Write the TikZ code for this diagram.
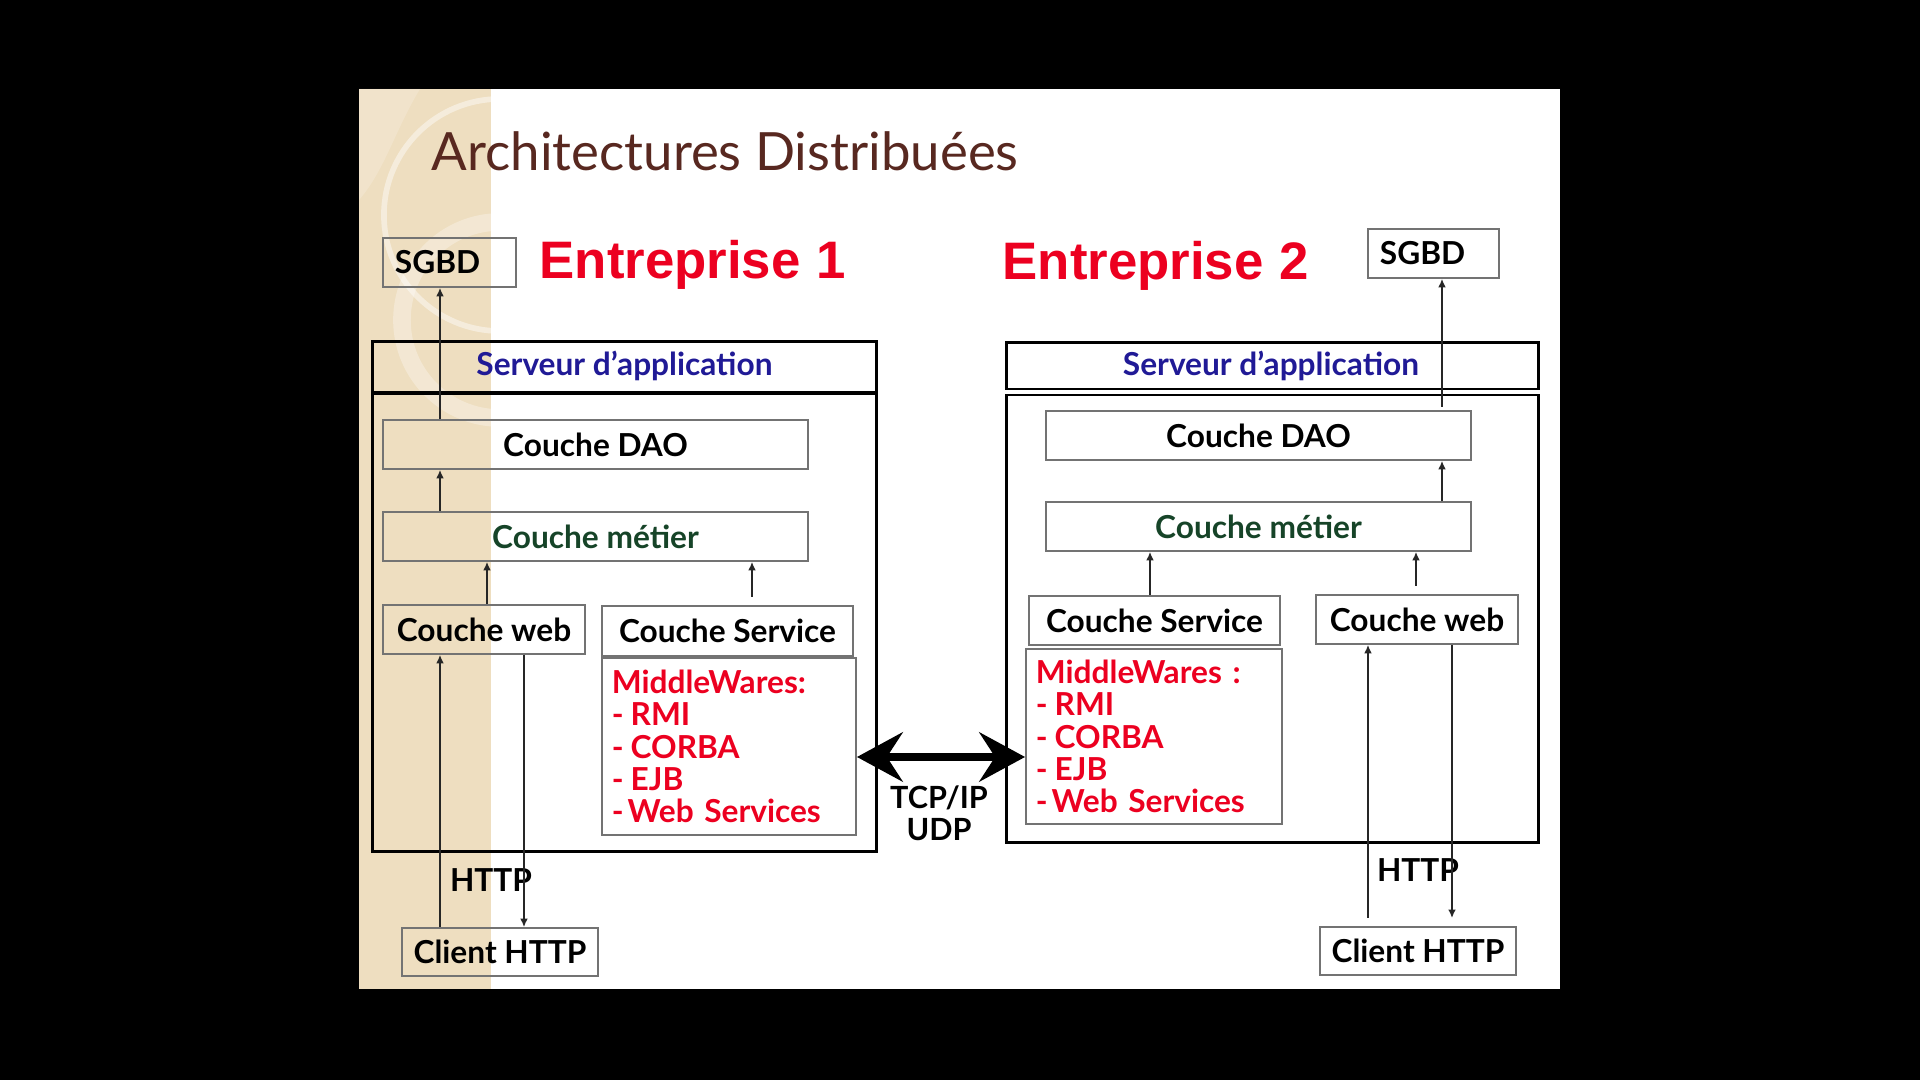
\documentclass[tikz,border=0pt]{standalone}
\usepackage{fontspec}
\setmainfont{Lato}
\newfontfamily\arialfont{Liberation Sans}
\usetikzlibrary{arrows.meta}
\definecolor{beige}{RGB}{238,222,192}
\definecolor{titlebrown}{RGB}{88,40,32}
\definecolor{entred}{RGB}{236,0,32}
\definecolor{navy}{RGB}{32,26,150}
\definecolor{dgreen}{RGB}{22,68,40}
\definecolor{boxgray}{RGB}{115,115,115}
\newcommand{\bxfont}{\bfseries\fontsize{9}{11}\selectfont}
\newcommand{\dsh}{-\kern0.22em}
\tikzset{
  box/.style={draw=boxgray, line width=0.5pt, inner sep=0pt, font=\bxfont, text=black},
  srvbox/.style={draw=black, line width=0.9pt, inner sep=0pt},
  conn/.style={draw=black!85, line width=0.45pt, -{Latex[length=2.4pt,width=2.2pt]}},
  bigarrow/.style={draw=black, line width=2.3pt, {Stealth[length=13pt,width=14pt,inset=4.5pt]}-{Stealth[length=13pt,width=14pt,inset=4.5pt]}},
  lbl/.style={font=\bxfont, text=black, inner sep=0pt},
  mwtext/.style={font=\bfseries\fontsize{9}{9.2}\selectfont, text=entred, align=left},
  enttext/.style={font=\arialfont\bfseries\fontsize{15}{18}\selectfont, text=entred, inner sep=0pt, anchor=base west},
}
\begin{document}
\begin{tikzpicture}[x=0.01cm,y=-0.01cm]
% background and slide
\fill[black] (0,0) rectangle (1920,1080);
\fill[white] (359,89) rectangle (1560,989);
\fill[beige] (359,89) rectangle (491,989);
\begin{scope}
  \clip (359,89) rectangle (491,989);
  \fill[white, opacity=0.18] (359,89) -- (420,89) .. controls (395,130) and (385,170) .. (359,200) -- cycle;
  \draw[white, opacity=0.45, line width=1.6pt] (500,215) circle[radius=1.16cm];
  \draw[white, opacity=0.30, line width=5pt] (500,320) circle[radius=0.98cm];
\end{scope}

% title
\node[anchor=base west, inner sep=0pt, font=\fontsize{15}{18}\selectfont, text=titlebrown] (title) at (431,171) {Architectures Distribuées};

% enterprise titles
\node[enttext] (ent1) at (539,279) {Entreprise\hspace{0.3em}1};
\node[enttext] (ent2) at (1002,280) {Entreprise\hspace{0.3em}2};

% ---------------- Entreprise 1 ----------------
\node[srvbox, minimum width=5.03cm, minimum height=5.09cm] (srv1) at (624.5,596.5) {};
\draw[line width=1.4pt] (srv1.west |- 0,393) -- (srv1.east |- 0,393);
\node[lbl, anchor=base, text=navy] (hdr1) at (624.5,376) {Serveur d’application};

\node[box, minimum width=1.33cm, minimum height=0.49cm, text width=1.09cm, align=left] (sgbd1) at (449.5,262.5) {SGBD};
\node[box, minimum width=4.25cm, minimum height=0.49cm] (dao1) at (595.5,444.5) {Couche DAO};
\node[box, minimum width=4.25cm, minimum height=0.49cm, text=dgreen] (met1) at (595.5,536.5) {Couche métier};
\node[box, minimum width=2.02cm, minimum height=0.49cm] (web1) at (484,629.5) {Couche web};
\node[box, minimum width=2.51cm, minimum height=0.50cm] (svc1) at (727.5,631) {Couche Service};
\node[box, minimum width=2.54cm, minimum height=1.77cm, text width=2.34cm, mwtext] (mw1) at (729,746.5) {MiddleWares:\\\dsh RMI\\\dsh CORBA\\\dsh EJB\\-\kern0.12em Web Services};
\node[box, minimum width=1.96cm, minimum height=0.48cm] (client1) at (500,952) {Client HTTP};
\node[lbl] (http1) at (491,880) {HTTP};

\coordinate (s1) at (752,597);
\draw[conn] (client1.north -| 440,0) -- (web1.south -| 440,0);
\draw[conn] (web1.south -| 524,0) -- (client1.north -| 524,0);
\draw[conn] (web1.north -| 487,0) -- (met1.south -| 487,0);
\draw[conn] (s1) -- (met1.south -| s1);
\draw[conn] (met1.north -| 440,0) -- (dao1.south -| 440,0);
\draw[conn] (dao1.north -| 440,0) -- (sgbd1.south -| 440,0);

% ---------------- Entreprise 2 ----------------
\node[srvbox, minimum width=5.31cm, minimum height=4.99cm] (srv2) at (1272.5,592.5) {};
\draw[line width=0.7pt, double, double distance=0.9pt] (srv2.west |- 0,392) -- (srv2.east |- 0,392);
\node[lbl, anchor=base, text=navy] (hdr2) at (1271,376) {Serveur d’application};

\node[box, minimum width=1.31cm, minimum height=0.49cm, text width=1.07cm, align=left] (sgbd2) at (1433.5,253.5) {SGBD};
\node[box, minimum width=4.25cm, minimum height=0.49cm] (dao2) at (1258.5,435.5) {Couche DAO};
\node[box, minimum width=4.25cm, minimum height=0.49cm, text=dgreen] (met2) at (1258.5,526.5) {Couche métier};
\node[box, minimum width=2.51cm, minimum height=0.49cm] (svc2) at (1154.5,620.5) {Couche Service};
\node[box, minimum width=2.56cm, minimum height=1.75cm, text width=2.36cm, mwtext] (mw2) at (1154,736.5) {MiddleWares :\\\dsh RMI\\\dsh CORBA\\\dsh EJB\\-\kern0.12em Web Services};
\node[box, minimum width=2.02cm, minimum height=0.49cm] (web2) at (1417,619.5) {Couche web};
\node[box, minimum width=1.96cm, minimum height=0.48cm] (client2) at (1418,951) {Client HTTP};
\node[lbl] (http2) at (1418,870) {HTTP};

\coordinate (d2) at (1442,407);
\coordinate (w2) at (1416,586);
\coordinate (k2) at (1368,918);
\coordinate (l2) at (1452,918);
\draw[conn] (d2) -- (sgbd2.south -| d2);
\draw[conn] (met2.north -| d2) -- (dao2.south -| d2);
\draw[conn] (svc2.north -| 1150,0) -- (met2.south -| 1150,0);
\draw[conn] (w2) -- (met2.south -| w2);
\draw[conn] (k2) -- (web2.south -| k2);
\draw[conn] (web2.south -| l2) -- (l2);

% ---------------- link ----------------
\draw[bigarrow] (mw1.east |- 0,757) -- (mw2.west |- 0,757);
\node[lbl, align=center, font=\bfseries\fontsize{8.7}{9.1}\selectfont] (tcp) at (939,813) {TCP/IP\\UDP};
\end{tikzpicture}
\end{document}
